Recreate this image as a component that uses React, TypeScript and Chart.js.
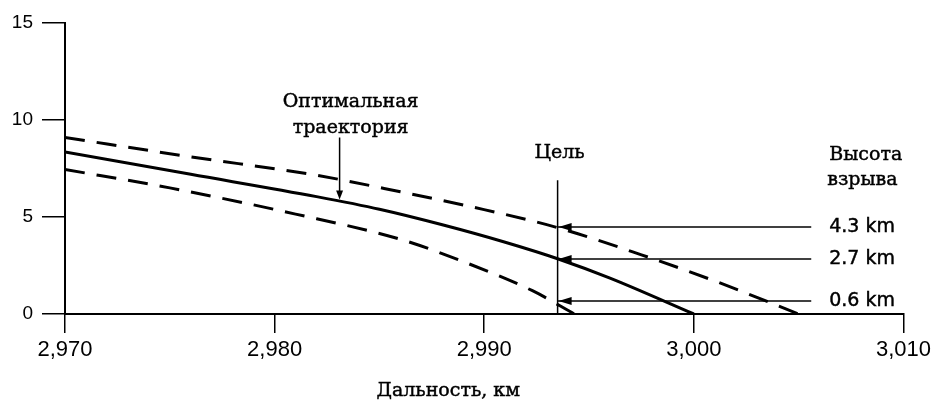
import React, { useEffect, useRef } from "react";
import { Chart, registerables } from "chart.js";

Chart.register(...registerables);

// Axis ticks
const xTicks = [2970, 2980, 2990, 3000, 3010];
const yTicks = [0, 5, 10, 15];

// Optimal trajectory (solid)
const optimalRange = [2970, 2976, 2982, 2985, 2988, 2991, 2993.5, 2996, 3000];
const optimalHeight = [8.35, 7.2, 6.05, 5.4, 4.6, 3.7, 2.85, 1.85, 0];

// Upper bound (dashed)
const upperRange = [2970, 2976, 2982, 2986, 2989.5, 2993.5, 2997.5, 3001, 3005];
const upperHeight = [9.1, 8.1, 7.15, 6.3, 5.5, 4.45, 3.05, 1.7, 0];

// Lower bound (dashed)
const lowerRange = [2970, 2975, 2981, 2986, 2989, 2992.3, 2994.3];
const lowerHeight = [7.45, 6.5, 5.15, 3.85, 2.7, 1.2, 0];

// Target marker and burst-height arrows
const targetRange = 2993.5;
const targetTop = 6.9;
const burstArrowHeights = [4.48, 2.84, 0.67];
const burstLabels = ["4.3 km", "2.7 km", "0.6 km"];
const burstLineEnd = 3005.6;

// "Optimal trajectory" pointer
const optimalArrowX = 2983.1;
const optimalArrowTop = 9.1;
const optimalArrowTip = 5.85;

const texts = {
  optimal1: "Оптимальная",
  optimal2: "траектория",
  target: "Цель",
  burst1: "Высота",
  burst2: "взрыва",
  xTitle: "Дальность, км",
};

const pts = (xs: number[], ys: number[]) => xs.map((x, i) => ({ x, y: ys[i] }));

const SERIF = '"DejaVu Serif", "Liberation Serif", serif';
const SANS = '"DejaVu Sans", "Liberation Sans", sans-serif';

function arrowHead(ctx: CanvasRenderingContext2D, tipX: number, tipY: number, dir: "left" | "down", len: number, half: number) {
  ctx.beginPath();
  if (dir === "left") {
    ctx.moveTo(tipX, tipY);
    ctx.lineTo(tipX + len, tipY - half);
    ctx.lineTo(tipX + len, tipY + half);
  } else {
    ctx.moveTo(tipX, tipY);
    ctx.lineTo(tipX - half, tipY - len);
    ctx.lineTo(tipX + half, tipY - len);
  }
  ctx.closePath();
  ctx.fill();
}

function heavyText(ctx: CanvasRenderingContext2D, s: string, x: number, y: number) {
  ctx.fillText(s, x, y);
  ctx.strokeText(s, x, y);
}

const annotationPlugin = {
  id: "annotationsDraw",
  afterDatasetsDraw(chart: any) {
    const { ctx, scales, chartArea } = chart;
    const xs = scales.x;
    const ys = scales.y;
    ctx.save();
    ctx.fillStyle = "#000";
    ctx.strokeStyle = "#000";
    ctx.lineWidth = 0.45;

    // arrowheads at target line
    const tx = xs.getPixelForValue(targetRange);
    burstArrowHeights.forEach((h) => {
      arrowHead(ctx, tx + 1, ys.getPixelForValue(h), "left", 13, 4);
    });
    // optimal arrowhead
    arrowHead(ctx, xs.getPixelForValue(optimalArrowX), ys.getPixelForValue(optimalArrowTip) - 1, "down", 9, 3.5);

    // serif texts
    ctx.font = `19px ${SERIF}`;
    ctx.textBaseline = "alphabetic";
    ctx.textAlign = "center";
    const ox = xs.getPixelForValue(optimalArrowX) + 11;
    const oy = ys.getPixelForValue(optimalArrowTop);
    heavyText(ctx, texts.optimal1, ox, oy - 30);
    heavyText(ctx, texts.optimal2, ox, oy - 4);
    heavyText(ctx, texts.target, tx + 2, ys.getPixelForValue(targetTop) - 22);

    const lx = xs.getPixelForValue(burstLineEnd) + 18;
    ctx.textAlign = "left";
    heavyText(ctx, texts.burst1, lx, 160);
    heavyText(ctx, texts.burst2, lx - 2, 185);

    // burst labels
    ctx.font = `19px ${SANS}`;
    ctx.textBaseline = "middle";
    burstArrowHeights.forEach((h, i) => {
      heavyText(ctx, burstLabels[i], lx, ys.getPixelForValue(h));
    });

    // x-axis title
    ctx.font = `19px ${SERIF}`;
    ctx.textAlign = "center";
    ctx.textBaseline = "alphabetic";
    heavyText(ctx, texts.xTitle, (chartArea.left + chartArea.right) / 2 - 36, 396);
    ctx.restore();
  },
};

export default function App() {
  const ref = useRef<HTMLCanvasElement | null>(null);
  useEffect(() => {
    if (!ref.current) return;
    const thin = { borderColor: "#000", borderWidth: 1.5, pointRadius: 0, fill: false, tension: 0 };
    const chart = new Chart(ref.current, {
      type: "line",
      data: {
        datasets: [
          { label: "Оптимальная траектория", data: pts(optimalRange, optimalHeight), borderColor: "#000", borderWidth: 3, pointRadius: 0, cubicInterpolationMode: "monotone", fill: false },
          { label: "upper", data: pts(upperRange, upperHeight), borderColor: "#000", borderWidth: 3, borderDash: [20, 12], pointRadius: 0, cubicInterpolationMode: "monotone", fill: false },
          { label: "lower", data: pts(lowerRange, lowerHeight), borderColor: "#000", borderWidth: 3, borderDash: [20, 12], pointRadius: 0, cubicInterpolationMode: "monotone", fill: false },
          { label: "target", data: [{ x: targetRange, y: 0 }, { x: targetRange, y: targetTop }], ...thin },
          ...burstArrowHeights.map((h, i) => ({ label: burstLabels[i], data: [{ x: targetRange, y: h }, { x: burstLineEnd, y: h }], ...thin })),
          { label: "pointer", data: [{ x: optimalArrowX, y: optimalArrowTop }, { x: optimalArrowX, y: optimalArrowTip + 0.3 }], ...thin },
        ] as any,
      },
      options: {
        responsive: false,
        animation: false,
        layout: { padding: { left: 0, right: 30, top: 23, bottom: 0 } },
        plugins: { legend: { display: false }, tooltip: { enabled: false }, title: { display: false } },
        scales: {
          x: {
            type: "linear",
            min: 2970,
            max: 3010,
            afterFit: (s: any) => { s.height = 87; },
            afterBuildTicks: (s: any) => { s.ticks = xTicks.map((v) => ({ value: v })); },
            ticks: {
              color: "#000",
              font: { family: '"Liberation Sans", Arial, sans-serif', size: 22 },
              padding: 4,
              maxRotation: 0,
              callback: (v: any) => Number(v).toLocaleString("en-US"),
            },
            grid: { drawOnChartArea: false, drawTicks: true, tickLength: 19, color: "#000", lineWidth: 1.5 },
            border: { display: true, color: "#000", width: 2 },
          },
          y: {
            type: "linear",
            min: 0,
            max: 15,
            afterFit: (s: any) => { s.width = 65; },
            afterBuildTicks: (s: any) => { s.ticks = yTicks.map((v) => ({ value: v })); },
            ticks: {
              color: "#000",
              font: { family: '"Liberation Sans", Arial, sans-serif', size: 19 },
              padding: 9,
            },
            grid: { drawOnChartArea: false, drawTicks: true, tickLength: 23, color: "#000", lineWidth: 1.5 },
            border: { display: true, color: "#000", width: 2 },
          },
        },
      },
      plugins: [annotationPlugin],
    });
    return () => chart.destroy();
  }, []);
  return (
    <div style={{ position: "absolute", left: 0, top: 0, width: 935, height: 401, background: "#fff" }}>
      <canvas ref={ref} width={935} height={401} style={{ display: "block" }} />
    </div>
  );
}
